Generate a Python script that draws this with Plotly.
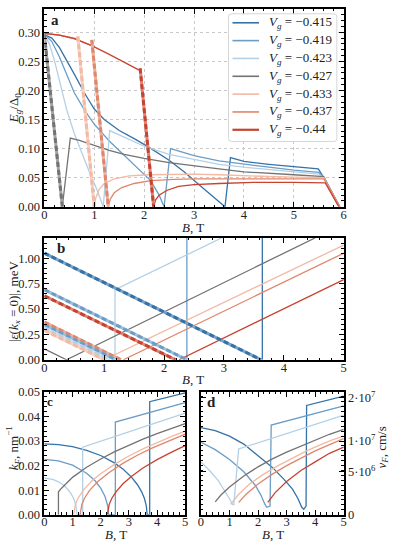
import plotly.graph_objects as go

W, H = 395, 548
FONT = "Liberation Serif"

VG_LABELS = ["−0.415", "−0.419", "−0.423", "−0.427", "−0.433", "−0.437", "−0.44"]
COLORS = ["#3572a8", "#6b9dc6", "#b3d0e6", "#737373", "#f2b9a4", "#e0866b", "#c7432f"]

# ---------------- panel a : E_g / Delta_0 vs B ----------------
A415 = [(0, 0.296), (0.15, 0.29), (0.3, 0.274), (0.45, 0.252), (0.6, 0.228), (0.8, 0.196), (1.0, 0.168),
        (1.2, 0.15), (1.5, 0.131), (1.8, 0.117), (2.1, 0.102), (2.5, 0.08), (2.8, 0.06), (3.1, 0.038),
        (3.35, 0.02), (3.55, 0.006), (3.62, 0), (3.73, 0.0845), (4.0, 0.078), (4.5, 0.073), (5.0, 0.069),
        (5.49, 0.065), (5.6, 0.05), (5.92, 0)]
A419 = [(0, 0.296), (0.15, 0.284), (0.3, 0.258), (0.42, 0.232), (0.6, 0.196), (0.82, 0.164), (1.0, 0.142),
        (1.3, 0.113), (1.6, 0.089), (1.9, 0.065), (2.13, 0.045), (2.3, 0.02), (2.4, 0), (2.53, 0.1),
        (3.0, 0.088), (3.5, 0.079), (4.0, 0.073), (4.5, 0.068), (5.0, 0.063), (5.5, 0.059), (5.6, 0.05), (5.92, 0)]
A423 = [(0, 0.296), (0.1, 0.28), (0.2, 0.252), (0.26, 0.232), (0.35, 0.2), (0.45, 0.166), (0.6, 0.126),
        (0.75, 0.092), (0.9, 0.06), (1.05, 0.03), (1.18, 0), (1.31, 0.131), (1.6, 0.12), (2.0, 0.104),
        (2.5, 0.09), (3.0, 0.081), (3.5, 0.073), (4.0, 0.068), (4.5, 0.064), (5.0, 0.06), (5.5, 0.056),
        (5.6, 0.05), (5.92, 0)]
A427 = [(0.36, 0), (0.52, 0.118), (0.7, 0.114), (1.0, 0.105), (1.3, 0.097), (1.6, 0.09), (2.0, 0.083),
        (2.5, 0.076), (3.0, 0.07), (3.5, 0.065), (4.0, 0.06), (4.5, 0.057), (5.0, 0.055), (5.6, 0.052), (5.92, 0)]
A427_DASH = [(0, 0.296), (0.36, 0)]
A433_TOP = [(0, 0.298), (0.3, 0.295), (0.67, 0.289)]
A433 = [(1.0, 0), (1.03, 0.015), (1.1, 0.03), (1.2, 0.04), (1.4, 0.048), (1.7, 0.053), (2.1, 0.055),
        (2.6, 0.056), (3.0, 0.056), (3.5, 0.055), (4.0, 0.053), (4.5, 0.052), (5.0, 0.051), (5.6, 0.05), (5.92, 0)]
A433_DASH = [(0.67, 0.293), (1.0, 0)]
A437_TOP = [(0, 0.298), (0.3, 0.295), (0.6, 0.289), (0.95, 0.277)]
A437 = [(1.28, 0), (1.32, 0.013), (1.4, 0.024), (1.55, 0.033), (1.8, 0.04), (2.13, 0.045), (2.6, 0.047),
        (3.0, 0.048), (4.0, 0.048), (5.0, 0.048), (5.6, 0.048), (5.92, 0)]
A437_DASH = [(0.95, 0.287), (1.28, 0)]
A440_TOP = [(0, 0.298), (0.3, 0.295), (0.6, 0.289), (0.95, 0.277), (1.3, 0.262), (1.6, 0.249), (1.92, 0.234)]
A440 = [(2.19, 0), (2.23, 0.012), (2.3, 0.02), (2.45, 0.028), (2.69, 0.035), (3.0, 0.038), (3.5, 0.04),
        (4.2, 0.042), (5.0, 0.042), (5.63, 0.041), (5.9, 0)]
A440_DASH = [(1.92, 0.238), (2.19, 0)]

# ---------------- panel b : |eps(kx=0)| vs B ----------------
B415_THICK = [(0, 1.05), (3.62, 0)]
B415 = [(3.64, 0), (3.64, 1.25)]
B419_THICK = [(0, 0.69), (2.38, 0)]
B419_THICK2 = [(0, 0.345), (1.19, 0)]
B419 = [(2.38, 0), (2.38, 1.25)]
B423_THICK = [(0, 0.315), (1.09, 0)]
B423 = [(1.18, 0), (1.18, 0.69), (2.96, 1.2)]
B427 = [(0, 0.107), (0.37, 0), (4.52, 1.2)]
B433_THICK = [(0, 0.29), (1.0, 0)]
B433 = [(1.0, 0), (5.0, 1.13)]
B437_THICK = [(0, 0.372), (1.28, 0)]
B437 = [(1.32, 0), (5.0, 1.05)]
B440_THICK = [(0, 0.63), (2.19, 0)]
B440 = [(2.25, 0), (5.0, 0.79)]

# ---------------- panel c : k_F vs B ----------------
C415 = [(0, 0.0288), (0.5, 0.0285), (1.0, 0.0277), (1.5, 0.0262), (2.0, 0.0241), (2.5, 0.021), (2.8, 0.0185),
        (3.1, 0.0152), (3.3, 0.0123), (3.45, 0.0094), (3.55, 0.0067), (3.62, 0.0036), (3.65, 0), (3.74, 0),
        (3.74, 0.046), (5.0, 0.0496)]
C419 = [(0, 0.0225), (0.5, 0.0219), (1.0, 0.0202), (1.5, 0.0169), (1.8, 0.0138), (2.0, 0.0108), (2.15, 0.0075),
        (2.25, 0.0036), (2.28, 0), (2.52, 0), (2.52, 0.0377), (5.0, 0.0456)]
C423 = [(0, 0.0149), (0.3, 0.0144), (0.5, 0.0134), (0.7, 0.0119), (0.85, 0.0101), (0.95, 0.0085), (1.05, 0.0063),
        (1.12, 0.0039), (1.16, 0), (1.36, 0), (1.36, 0.0275), (5.0, 0.0414)]
C427 = [(0.5, 0), (0.5, 0.0093), (0.6, 0.0107), (0.8, 0.0131), (1.0, 0.0152), (1.5, 0.0193), (2.0, 0.0227),
        (2.5, 0.0257), (3.0, 0.0283), (3.5, 0.0308), (4.0, 0.033), (4.5, 0.0351), (5.0, 0.0371)]
C433 = [(1.04, 0), (1.1, 0.0042), (1.2, 0.0068), (1.4, 0.0102), (1.7, 0.0139), (2.0, 0.0167), (2.5, 0.0206),
        (3.0, 0.0239), (3.5, 0.0268), (4.0, 0.0294), (4.5, 0.0318), (5.0, 0.034)]
C437 = [(1.27, 0), (1.33, 0.0042), (1.43, 0.0068), (1.6, 0.0098), (1.9, 0.0135), (2.3, 0.0172), (2.8, 0.021),
        (3.3, 0.0242), (3.8, 0.027), (4.4, 0.03), (5.0, 0.0328)]
C440 = [(2.24, 0), (2.3, 0.0041), (2.4, 0.0068), (2.55, 0.0094), (2.8, 0.0127), (3.1, 0.0157), (3.5, 0.019),
        (4.0, 0.0224), (4.5, 0.0254), (5.0, 0.0281)]

# ---------------- panel d : v_F vs B (axis in display units) ----------------
D_TICKS = [0, 0.35, 0.6, 0.955]
D_TICKTEXT = ["0", "5·10<sup>6</sup>", "1·10<sup>7</sup>", "2·10<sup>7</sup>"]
D415 = [(0, 0.71), (0.5, 0.685), (1.0, 0.64), (1.5, 0.575), (2.0, 0.48), (2.5, 0.385), (2.9, 0.29), (3.2, 0.21),
        (3.4, 0.13), (3.53, 0.06), (3.6, 0.045), (3.68, 0.07), (3.7, 0.89), (5.0, 0.966)]
D419 = [(0, 0.59), (0.5, 0.53), (1.0, 0.45), (1.5, 0.35), (1.9, 0.24), (2.1, 0.16), (2.23, 0.09), (2.3, 0.06),
        (2.42, 0.07), (2.46, 0.73), (5.0, 0.886)]
D423 = [(0, 0.43), (0.3, 0.36), (0.6, 0.28), (0.85, 0.19), (1.0, 0.13), (1.1, 0.085), (1.15, 0.08),
        (1.32, 0.535), (5.0, 0.81)]
D427 = [(0.5, 0.105), (0.7, 0.16), (1.0, 0.225), (1.5, 0.315), (2.0, 0.39), (2.5, 0.455), (3.0, 0.51),
        (3.5, 0.56), (4.0, 0.61), (4.5, 0.655), (5.0, 0.695)]
D433 = [(1.04, 0.084), (1.3, 0.16), (1.7, 0.25), (2.2, 0.33), (2.7, 0.4), (3.2, 0.46), (3.7, 0.52),
        (4.2, 0.57), (4.6, 0.61), (5.0, 0.64)]
D437 = [(1.32, 0.1), (1.6, 0.17), (2.0, 0.25), (2.5, 0.33), (3.0, 0.4), (3.5, 0.46), (4.0, 0.52),
        (4.5, 0.57), (5.0, 0.62)]
D440 = [(2.34, 0.1), (2.6, 0.18), (3.0, 0.27), (3.5, 0.36), (4.0, 0.43), (4.5, 0.5), (5.0, 0.55)]


def light(c, t=0.55):
    r, g, b = int(c[1:3], 16), int(c[3:5], 16), int(c[5:7], 16)
    r, g, b = [int(v + (255 - v) * t) for v in (r, g, b)]
    return f"rgb({r},{g},{b})"


fig = go.Figure()


def add(pts, xa, ya, color, width=1.3, dash="solid", name=None):
    fig.add_trace(go.Scatter(
        x=[p[0] for p in pts], y=[p[1] for p in pts], xaxis=xa, yaxis=ya, mode="lines",
        line=dict(color=color, width=width, dash=dash), name=name, showlegend=False,
        hoverinfo="skip"))


def add_thick(pts, xa, ya, color):
    add(pts, xa, ya, light(color, 0.35), width=3)
    add(pts, xa, ya, color, width=3, dash="5px,3px")


# panel a
A_MAIN = [A415, A419, A423, A427, A433, A437, A440]
A_TOP = [None, None, None, None, A433_TOP, A437_TOP, A440_TOP]
A_DASH = [None, None, None, A427_DASH, A433_DASH, A437_DASH, A440_DASH]
for i in range(7):
    if A_TOP[i]:
        add(A_TOP[i], "x", "y", COLORS[i])
    add(A_MAIN[i], "x", "y", COLORS[i], name=VG_LABELS[i])
for i in range(7):
    if A_DASH[i]:
        add_thick(A_DASH[i], "x", "y", COLORS[i])

# panel b
B_THIN = [B415, B419, B423, B427, B433, B437, B440]
for i in range(7):
    add(B_THIN[i], "x2", "y2", COLORS[i])
B_THICK = [(B415_THICK, 0), (B419_THICK, 1), (B440_THICK, 6), (B437_THICK, 5), (B419_THICK2, 1),
           (B423_THICK, 2), (B433_THICK, 4)]
for pts, i in B_THICK:
    add_thick(pts, "x2", "y2", COLORS[i])

# panel c, d
for i, pts in enumerate([C415, C419, C423, C427, C433, C437, C440]):
    add(pts, "x3", "y3", COLORS[i])
for i, pts in enumerate([D415, D419, D423, D427, D433, D437, D440]):
    add(pts, "x4", "y4", COLORS[i])

tickfont = dict(family=FONT, size=12.5, color="#222")


def axis(domain, rng, anchor, dtick=None, minor=None, grid=False, xaxis_=False, **kw):
    d = dict(domain=domain, range=rng, anchor=anchor, showline=True, linecolor="black", linewidth=1.5,
             mirror="allticks", ticks="inside", ticklen=5, tickwidth=1, tickcolor="black",
             tickfont=tickfont, zeroline=False, showgrid=grid, gridcolor="#c8c8c8", griddash="dot",
             gridwidth=1, fixedrange=True)
    if xaxis_:
        d["ticklabelstandoff"] = -5
    if dtick is not None:
        d.update(dtick=dtick, tick0=0)
    if minor is not None:
        d["minor"] = dict(ticks="inside", ticklen=2.5, tickwidth=0.8, tickcolor="black", dtick=minor,
                          tick0=0, showgrid=False)
    d.update(kw)
    return d


xa = [42 / W, 346 / W]
fig.update_layout(
    width=W, height=H, margin=dict(l=0, r=0, t=0, b=0),
    paper_bgcolor="white", plot_bgcolor="white",
    font=dict(family=FONT, size=12, color="#222"),
    xaxis=axis(xa, [0, 6], "y", dtick=1, minor=0.2, grid=True, xaxis_=True),
    yaxis=axis([1 - 205 / H, 1 - 2 / H], [0, 0.34], "x", dtick=0.05, minor=0.01, grid=True, tickformat=".2f"),
    xaxis2=axis(xa, [0, 5], "y2", dtick=1, minor=0.2, xaxis_=True),
    yaxis2=axis([1 - 362 / H, 1 - 237 / H], [0, 1.2], "x2", dtick=0.25, minor=0.05, tickformat=".2f"),
    xaxis3=axis([42 / W, 185 / W], [0, 5], "y3", dtick=1, minor=0.2, xaxis_=True),
    yaxis3=axis([1 - 521 / H, 1 - 395 / H], [0, 0.05], "x3", dtick=0.01, minor=0.002, tickformat=".2f"),
    xaxis4=axis([201 / W, 346 / W], [0, 5], "y4", dtick=1, minor=0.2, xaxis_=True),
    yaxis4=axis([1 - 521 / H, 1 - 395 / H], [0, 1], "x4", side="right", tickmode="array",
                tickvals=D_TICKS, ticktext=D_TICKTEXT, minor=0.04),
    showlegend=False,
)

ann = []
shapes = []


def px(x):
    return x / W


def py(y):
    return 1 - y / H


def text(x, y, s, size=13, angle=0, xanchor="center"):
    ann.append(dict(x=px(x), y=py(y), xref="paper", yref="paper", text=s, showarrow=False,
                    font=dict(family=FONT, size=size, color="#222"), textangle=angle,
                    xanchor=xanchor, yanchor="middle"))


# legend drawn by hand inside panel a (box, line samples, labels)
LX0, LX1, LY0, LY1, R = 229, 339, 7, 138, 3
shapes.append(dict(
    type="path", xref="paper", yref="paper", layer="above",
    path=(f"M {px(LX0 + R)},{py(LY0)} L {px(LX1 - R)},{py(LY0)} Q {px(LX1)},{py(LY0)} {px(LX1)},{py(LY0 + R)} "
          f"L {px(LX1)},{py(LY1 - R)} Q {px(LX1)},{py(LY1)} {px(LX1 - R)},{py(LY1)} "
          f"L {px(LX0 + R)},{py(LY1)} Q {px(LX0)},{py(LY1)} {px(LX0)},{py(LY1 - R)} "
          f"L {px(LX0)},{py(LY0 + R)} Q {px(LX0)},{py(LY0)} {px(LX0 + R)},{py(LY0)} Z"),
    fillcolor="rgba(255,255,255,0.95)", line=dict(color="#d6d6d6", width=1)))
for i in range(7):
    yy = 16.2 + 18.3 * i
    shapes.append(dict(type="line", xref="paper", yref="paper", layer="above",
                       x0=px(233), x1=px(260), y0=py(yy), y1=py(yy),
                       line=dict(color=COLORS[i], width=2.2 if i == 6 else 1.6)))
    text(268, yy, f"<i>V<sub>g</sub></i> = {VG_LABELS[i]}", size=13, xanchor="left")

text(12, 104, "<i>E<sub>g</sub></i>/Δ<sub>0</sub>", angle=-90)
text(193, 226, "<i>B</i>, T")
text(11, 302, "|<i>ε</i>(<i>k<sub>x</sub></i> = 0)|, meV", angle=-90)
text(193, 382, "<i>B</i>, T")
text(11, 453, "<i>k<sub>F</sub></i>, nm<sup>−1</sup>", angle=-90)
text(115, 541, "<i>B</i>, T")
text(274, 541, "<i>B</i>, T")
text(385, 452, "<i>v<sub>F</sub></i>, cm/s", angle=-90)
text(53, 13, "<b>a</b>", size=15)
text(59, 247, "<b>b</b>", size=15)
text(48, 405, "<b>c</b>", size=13)
text(212, 405, "<b>d</b>", size=15)
fig.update_layout(annotations=ann, shapes=shapes)

fig.write_html("out.html", post_script="document.body.style.margin='0px';",
               config={"displayModeBar": False})
